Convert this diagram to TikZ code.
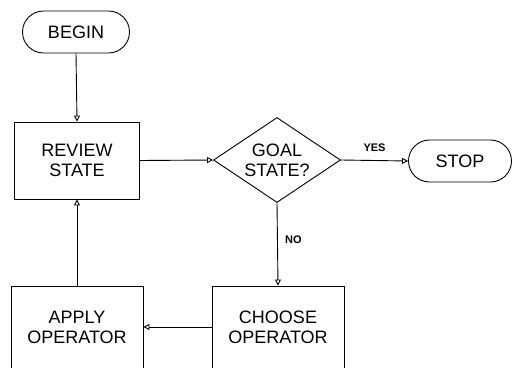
\documentclass[tikz,border=0pt]{standalone}
\usepackage{fontspec}
\setmainfont{Liberation Sans}
\usepackage{tikz}
\usetikzlibrary{positioning,arrows.meta,shapes.geometric,shapes.misc}

\begin{document}
\begin{tikzpicture}[x=1pt,y=-1pt,
    flowline/.style={line width=0.9pt, -{Triangle[open,length=6pt,width=6pt]}},
    terminal/.style={draw, line width=0.9pt, rounded rectangle, inner sep=0pt,
        minimum height=42pt, font=\fontsize{18}{20}\selectfont},
    process/.style={draw, line width=0.9pt, rectangle, align=center, inner sep=0pt,
        font=\fontsize{18}{20}\selectfont},
    decision/.style={draw, line width=0.9pt, diamond, aspect=1.49, align=center,
        inner sep=-1.5pt, minimum width=127pt, minimum height=85pt,
        font=\fontsize{18}{20}\selectfont},
    branch/.style={font=\fontsize{11}{12}\selectfont\bfseries}]
  \useasboundingbox (0,0) rectangle (513,367);

  \node[terminal, minimum width=107pt] (begin) at (76,32) {BEGIN};
  \node[process, minimum width=125pt, minimum height=77pt] (review) at (77,160.5) {REVIEW\\STATE};
  \node[decision] (goal) at (277,160) {GOAL\\STATE?};
  \node[terminal, minimum width=103pt] (stop) at (460,161) {STOP};
  \node[process, minimum width=132pt, minimum height=82pt] (apply) at (77,327) {APPLY\\OPERATOR};
  \node[process, minimum width=132pt, minimum height=82pt] (choose) at (278,327) {CHOOSE\\OPERATOR};

  % connectors
  \draw[flowline] (begin.south) -- (review.north);
  \draw[flowline] (review.east) -- (goal.west);
  \draw[flowline] (goal.east) -- node[branch, above=5pt] {YES} (stop.west);
  \draw[flowline] (goal.south) -- node[branch, right=4pt, pos=0.45] {NO} (choose.north);
  \draw[flowline] (choose.west) -- (apply.east);
  \draw[flowline] (apply.north) -- (review.south);
\end{tikzpicture}
\end{document}
